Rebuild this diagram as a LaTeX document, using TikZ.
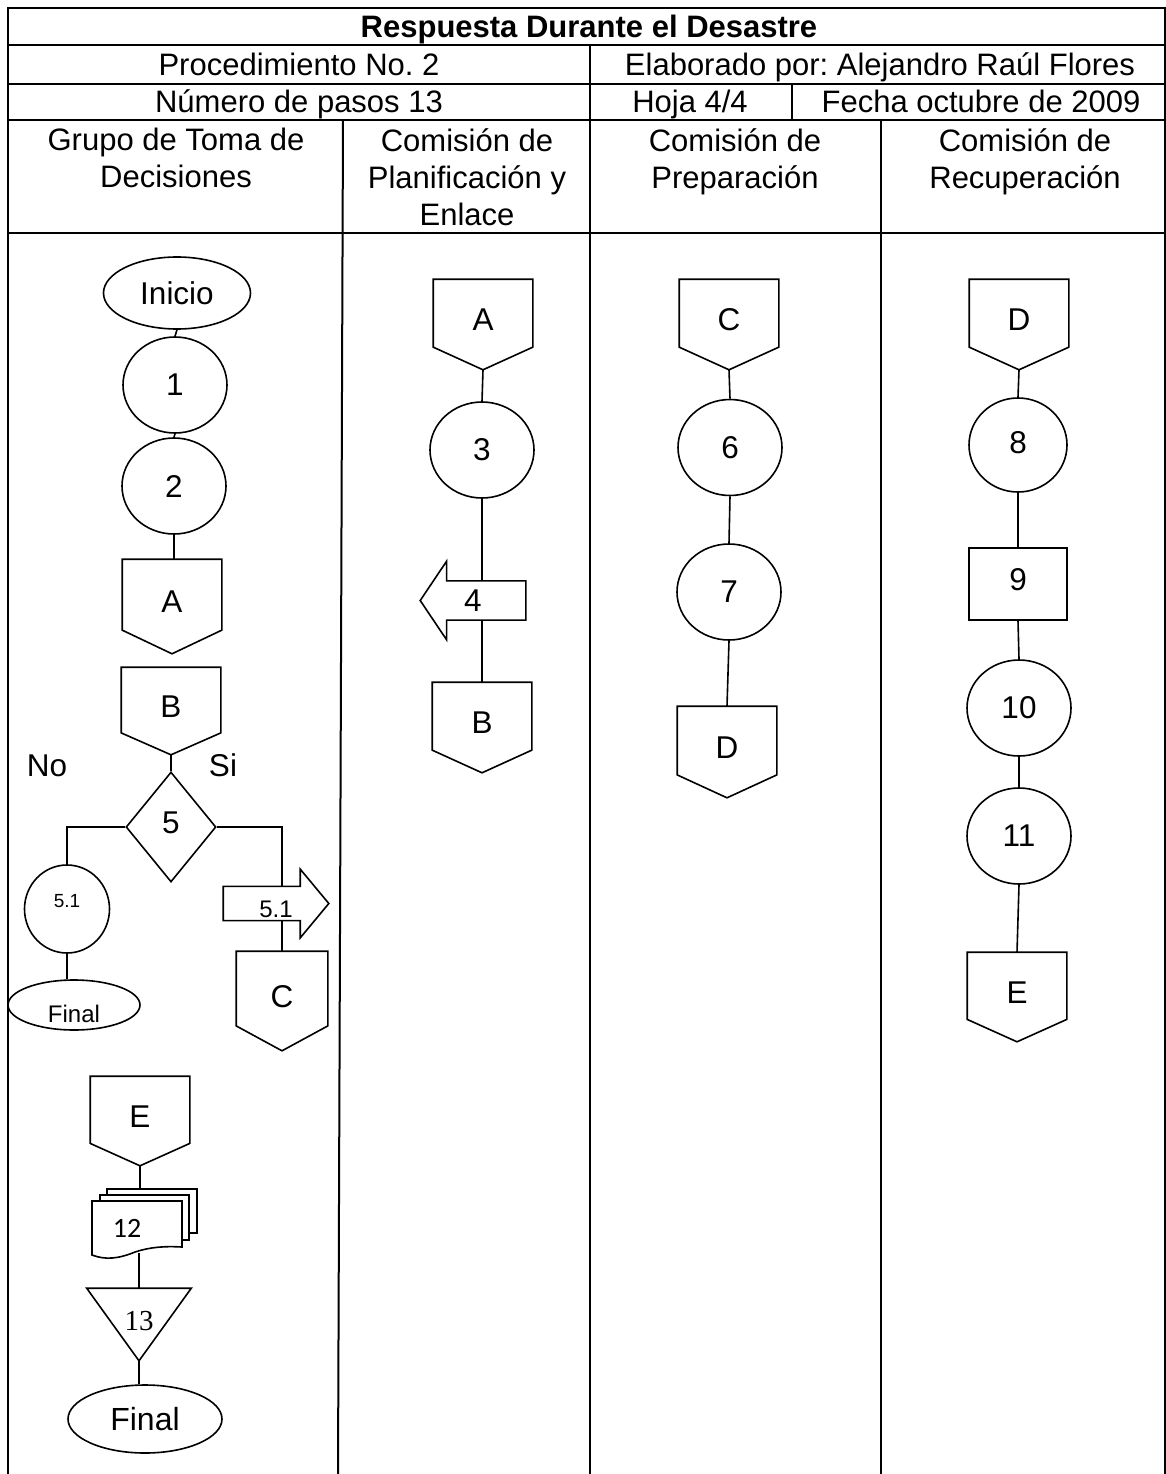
\documentclass[tikz,border=0pt]{standalone}
\usepackage{fontspec}
\setmainfont{Liberation Sans}
\newfontfamily\carlfont{Carlito}
\newfontfamily\serfont{Liberation Serif}
\usetikzlibrary{shapes.geometric}
\frenchspacing
\makeatletter
\def\rsgetcorners{%
  \southwest\edef\rsxa{\the\pgf@x}\edef\rsya{\the\pgf@y}%
  \northeast\edef\rsxb{\the\pgf@x}\edef\rsyb{\the\pgf@y}%
}
\pgfdeclareshape{offpage}{%
  \inheritsavedanchors[from=rectangle]%
  \inheritanchorborder[from=rectangle]%
  \inheritanchor[from=rectangle]{center}%
  \inheritanchor[from=rectangle]{north}%
  \inheritanchor[from=rectangle]{south}%
  \inheritanchor[from=rectangle]{east}%
  \inheritanchor[from=rectangle]{west}%
  \backgroundpath{%
    \rsgetcorners
    \pgfpathmoveto{\pgfpoint{\rsxa}{\rsyb}}%
    \pgfpathlineto{\pgfpoint{\rsxb}{\rsyb}}%
    \pgfpathlineto{\pgfpoint{\rsxb}{0.25*(\rsyb)+0.75*(\rsya)}}%
    \pgfpathlineto{\pgfpoint{0.5*(\rsxa)+0.5*(\rsxb)}{\rsya}}%
    \pgfpathlineto{\pgfpoint{\rsxa}{0.25*(\rsyb)+0.75*(\rsya)}}%
    \pgfpathclose
  }%
}
\pgfdeclareshape{leftarrowshape}{%
  \inheritsavedanchors[from=rectangle]%
  \inheritanchorborder[from=rectangle]%
  \inheritanchor[from=rectangle]{center}%
  \inheritanchor[from=rectangle]{north}%
  \inheritanchor[from=rectangle]{south}%
  \inheritanchor[from=rectangle]{east}%
  \inheritanchor[from=rectangle]{west}%
  \backgroundpath{%
    \rsgetcorners
    \pgfpathmoveto{\pgfpoint{\rsxa}{0.5*(\rsya)+0.5*(\rsyb)}}%
    \pgfpathlineto{\pgfpoint{0.75*(\rsxa)+0.25*(\rsxb)}{\rsyb}}%
    \pgfpathlineto{\pgfpoint{0.75*(\rsxa)+0.25*(\rsxb)}{0.75*(\rsyb)+0.25*(\rsya)}}%
    \pgfpathlineto{\pgfpoint{\rsxb}{0.75*(\rsyb)+0.25*(\rsya)}}%
    \pgfpathlineto{\pgfpoint{\rsxb}{0.75*(\rsya)+0.25*(\rsyb)}}%
    \pgfpathlineto{\pgfpoint{0.75*(\rsxa)+0.25*(\rsxb)}{0.75*(\rsya)+0.25*(\rsyb)}}%
    \pgfpathlineto{\pgfpoint{0.75*(\rsxa)+0.25*(\rsxb)}{\rsya}}%
    \pgfpathclose
  }%
}
\pgfdeclareshape{rightarrowshape}{%
  \inheritsavedanchors[from=rectangle]%
  \inheritanchorborder[from=rectangle]%
  \inheritanchor[from=rectangle]{center}%
  \inheritanchor[from=rectangle]{north}%
  \inheritanchor[from=rectangle]{south}%
  \inheritanchor[from=rectangle]{east}%
  \inheritanchor[from=rectangle]{west}%
  \backgroundpath{%
    \rsgetcorners
    \pgfpathmoveto{\pgfpoint{\rsxa}{0.75*(\rsyb)+0.25*(\rsya)}}%
    \pgfpathlineto{\pgfpoint{0.27*(\rsxa)+0.73*(\rsxb)}{0.75*(\rsyb)+0.25*(\rsya)}}%
    \pgfpathlineto{\pgfpoint{0.27*(\rsxa)+0.73*(\rsxb)}{\rsyb}}%
    \pgfpathlineto{\pgfpoint{\rsxb}{0.5*(\rsya)+0.5*(\rsyb)}}%
    \pgfpathlineto{\pgfpoint{0.27*(\rsxa)+0.73*(\rsxb)}{\rsya}}%
    \pgfpathlineto{\pgfpoint{0.27*(\rsxa)+0.73*(\rsxb)}{0.75*(\rsya)+0.25*(\rsyb)}}%
    \pgfpathlineto{\pgfpoint{\rsxa}{0.75*(\rsya)+0.25*(\rsyb)}}%
    \pgfpathclose
  }%
}
\pgfdeclareshape{invtriangle}{%
  \inheritsavedanchors[from=rectangle]%
  \inheritanchorborder[from=rectangle]%
  \inheritanchor[from=rectangle]{center}%
  \inheritanchor[from=rectangle]{north}%
  \inheritanchor[from=rectangle]{south}%
  \inheritanchor[from=rectangle]{east}%
  \inheritanchor[from=rectangle]{west}%
  \backgroundpath{%
    \rsgetcorners
    \pgfpathmoveto{\pgfpoint{\rsxa}{\rsyb}}%
    \pgfpathlineto{\pgfpoint{\rsxb}{\rsyb}}%
    \pgfpathlineto{\pgfpoint{0.5*(\rsxa)+0.5*(\rsxb)}{\rsya}}%
    \pgfpathclose
  }%
}
\makeatother
\newcommand\bigfnt{\fontsize{31}{37}\selectfont}
\newcommand\lblfnt{\fontsize{31.5}{37}\selectfont}
\newcommand\smfnt{\fontsize{19}{23}\selectfont}
\newcommand\mdfnt{\fontsize{24}{29}\selectfont}
\tikzset{
  tbl/.style={line width=2pt},
  con/.style={line width=1.6pt},
  shp/.style={draw, line width=1.6pt, fill=white, inner sep=0pt, font=\lblfnt},
  hdr/.style={inner sep=0pt, font=\bigfnt, text height=22pt, text depth=0pt},
  lanehdr/.style={inner sep=0pt, font=\bigfnt, align=center, anchor=north},
  term/.style={shp, ellipse},
  circ/.style={shp, ellipse, minimum width=104, minimum height=96},
  opc/.style={shp, shape=offpage, minimum width=98, text height=22pt, text depth=10pt},
  dia/.style={shp, diamond, minimum width=90, minimum height=110, text height=22pt, text depth=10pt},
  rbox/.style={shp, rectangle, minimum width=98, minimum height=72, text height=22pt, text depth=10pt},
  larr/.style={shp, shape=leftarrowshape},
  rarr/.style={shp, shape=rightarrowshape},
  itri/.style={shp, shape=invtriangle},
  plain/.style={inner sep=0pt, font=\lblfnt, text height=22pt, text depth=0pt}
}
\begin{document}
\begin{tikzpicture}[x=1pt,y=-1pt]
\useasboundingbox (0,0) rectangle (1166,1474);
% table
\draw[tbl] (8,1474) -- (8,8) -- (1165,8) -- (1165,1474);
\draw[tbl] (8,45) -- (1165,45);
\draw[tbl] (8,84) -- (1165,84);
\draw[tbl] (8,120) -- (1165,120);
\draw[tbl] (8,233) -- (1165,233);
\draw[tbl] (590,45) -- (590,1474);
\draw[tbl] (792,84) -- (792,120);
\draw[tbl] (343,120) -- (338,1474);
\draw[tbl] (881,120) -- (881,1474);
% header texts
\node[hdr, font=\bigfnt\bfseries] (title) at (589,26.5) {Respuesta Durante el Desastre};
\node[hdr] (proc) at (299,64.5) {Procedimiento No. 2};
\node[hdr] (elab) at (880,64.5) {Elaborado por: Alejandro Raúl Flores};
\node[hdr] (num) at (299,102) {Número de pasos 13};
\node[hdr] (hoja) at (690,102) {Hoja 4/4};
\node[hdr] (fecha) at (981,102) {Fecha octubre de 2009};
\node[lanehdr] (l1) at (176,128) {Grupo de Toma de\\Decisiones};
\node[lanehdr] (l2) at (467,128) {Comisión de\\Planificación y\\Enlace};
\node[lanehdr] (l3) at (735,128) {Comisión de\\Preparación};
\node[lanehdr] (l4) at (1025,128) {Comisión de\\Recuperación};
% lane 1
\node[term, minimum width=147, minimum height=72] (ini) at (177,293) {Inicio};
\node[circ] (c1) at (175,385) {1};
\node[circ] (c2) at (174,486) {2};
\node[opc, minimum height=93] (A1) at (172,606.5) {A};
\node[opc, minimum height=86] (B1) at (171,711) {B};
\node[dia] (d5) at (171,827) {5};
\node[plain] (no) at (47,765) {No};
\node[plain] (si) at (223,765) {Si};
\node[circ, minimum width=85, minimum height=88, font=\smfnt, text height=14pt, text depth=18pt] (c51) at (67,909) {5.1};
\node[term, minimum width=132, minimum height=50, font=\mdfnt, text height=34pt, text depth=0pt] (fin1) at (74,1005) {Final};
\node[opc, minimum width=90, minimum height=98] (C1) at (282,1001) {C};
\node[opc, minimum height=88] (E1) at (140,1121) {E};
\node[itri, minimum width=103, minimum height=71, font=\serfont\fontsize{29}{34}\selectfont, text height=20pt, text depth=9pt] (t13) at (139,1324.5) {13};
\node[term, minimum width=154, minimum height=68, font=\fontsize{32}{38}\selectfont] (fin2) at (145,1419) {Final};
% multi-document 12
\draw[line width=1.6pt, fill=white] (107,1189) rectangle (197,1233);
\draw[line width=1.6pt, fill=white] (100,1195) rectangle (189,1240);
\draw[line width=1.6pt, fill=white] (92,1201) -- (182,1201) -- (182,1247)
  .. controls (165,1246) and (150,1247) .. (135,1252)
  .. controls (118,1259) and (105,1260) .. (92,1255) -- cycle;
\node[inner sep=0pt, font=\carlfont\fontsize{28}{34}\selectfont] (d12) at (127,1228) {12};
\coordinate (d12t) at (139,1189);
\coordinate (d12b) at (139,1253);
% lane 1 connectors
\draw[con] (ini.south) -- (c1.north);
\draw[con] (c1.south) -- (c2.north);
\draw[con] (c2.south) -- (c2.south |- A1.north);
\draw[con] (B1.south) -- (d5.north);
\draw[con] (d5.west) -| (c51.north);
\draw[con] (c51.south) -- (c51.south |- fin1.north);
\draw[con] (d5.east) -| (C1.north);
\node[rarr, minimum width=104, minimum height=67, font=\mdfnt, text height=28pt, text depth=0pt] (s51) at (276,903.5) {5.1};
\draw[con] (E1.south) -- (E1.south |- d12t);
\draw[con] (d12b) -- (d12b |- t13.north);
\draw[con] (t13.south) -- (t13.south |- fin2.north);
% lane 2
\node[opc, minimum height=89] (A2) at (483,324.5) {A};
\node[circ] (c3) at (482,450) {3};
\node[opc, minimum height=89] (B2) at (482,727.5) {B};
\draw[con] (A2.south) -- (c3.north);
\draw[con] (c3.south) -- (B2.north);
\node[larr, minimum width=104, minimum height=77] (s4) at (473,600.5) {4};
% lane 3
\node[opc, minimum height=89] (C3) at (729,324.5) {C};
\node[circ] (c6) at (730,447.5) {6};
\node[circ] (c7) at (729,592) {7};
\node[opc, minimum height=90] (D3) at (727,752) {D};
\draw[con] (C3.south) -- (c6.north);
\draw[con] (c6.south) -- (c7.north);
\draw[con] (c7.south) -- (D3.north);
% lane 4
\node[opc, minimum height=89] (D4) at (1019,324.5) {D};
\node[circ, minimum width=98, minimum height=94, text height=22pt, text depth=6pt] (c8) at (1018,445) {8};
\node[rbox] (r9) at (1018,584) {9};
\node[circ] (c10) at (1019,708) {10};
\node[circ] (c11) at (1019,836) {11};
\node[opc, minimum height=88] (E4) at (1017,997) {E};
\draw[con] (D4.south) -- (c8.north);
\draw[con] (c8.south) -- (r9.north);
\draw[con] (r9.south) -- (c10.north);
\draw[con] (c10.south) -- (c11.north);
\draw[con] (c11.south) -- (E4.north);
\end{tikzpicture}
\end{document}
